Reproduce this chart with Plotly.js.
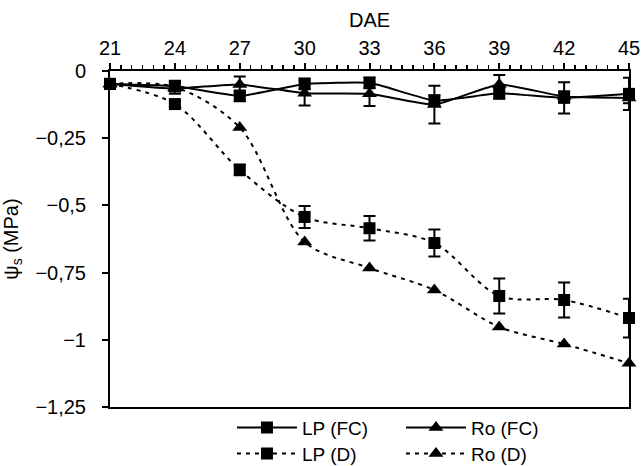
<!DOCTYPE html>
<html>
<head>
<meta charset="utf-8">
<script src="https://cdn.plot.ly/plotly-3.0.1.min.js"></script>
<style>html,body{margin:0;padding:0;background:#fff;}#chart{width:641px;height:466px;}</style>
</head>
<body>
<div id="chart"></div>
<script>
// Days after emergence
const dae = [21, 24, 27, 30, 33, 36, 39, 42, 45];

// Osmotic potential (MPa) and error bars
const lpFC = [-0.048, -0.056, -0.093, -0.048, -0.044, -0.110, -0.083, -0.100, -0.085];
const lpFCerr = [0.01, 0.02, 0.02, 0.02, 0.02, 0.02, 0.02, 0.058, 0.06];
const roFC = [-0.048, -0.065, -0.050, -0.083, -0.085, -0.125, -0.050, -0.095, -0.100];
const roFCerr = [0.01, 0.02, 0.03, 0.045, 0.045, 0.07, 0.035, 0.02, 0.02];
const lpD = [-0.048, -0.123, -0.368, -0.543, -0.585, -0.640, -0.837, -0.852, -0.919];
const lpDerr = [0.01, 0.01, 0.02, 0.041, 0.046, 0.05, 0.065, 0.065, 0.072];
const roD = [-0.048, -0.060, -0.210, -0.636, -0.733, -0.815, -0.952, -1.016, -1.087];

const seriesNames = ["LP (FC)", "Ro (FC)", "LP (D)", "Ro (D)"];

const font = "Liberation Sans, Arial, sans-serif";

function tr(name, y, err, symbol, dash, leg, smooth) {
  const t = {
    x: dae, y: y, name: name, type: 'scatter', mode: 'lines+markers', legend: leg,
    line: {color: '#000', width: 2, shape: 'spline', smoothing: smooth, dash: dash},
    marker: {color: '#000', symbol: symbol, size: symbol === 'square' ? 12 : 13},
    cliponaxis: false
  };
  if (err) t.error_y = {type: 'data', array: err, visible: true, color: '#000', thickness: 2, width: 6};
  return t;
}

const data = [
  tr(seriesNames[0], lpFC, lpFCerr, 'square', 'solid', 'legend', 0.4),
  tr(seriesNames[1], roFC, roFCerr, 'triangle-up', 'solid', 'legend', 0.4),
  tr(seriesNames[2], lpD, lpDerr, 'square', '4px,5px', 'legend2', 0.9),
  tr(seriesNames[3], roD, null, 'triangle-up', '4px,5px', 'legend2', 0.9)
];

function legendBox(y) {
  return {
    orientation: 'h', x: 0.235, xanchor: 'left', y: y, yanchor: 'top',
    entrywidth: 94, entrywidthmode: 'pixels', itemwidth: 60,
    font: {family: font, size: 19, color: '#000'},
    bgcolor: 'rgba(0,0,0,0)'
  };
}

const layout = {
  width: 641, height: 466,
  margin: {l: 110, r: 12, t: 71, b: 59, autoexpand: false},
  paper_bgcolor: '#fff', plot_bgcolor: '#fff',
  separators: ', ',
  font: {family: font, size: 19, color: '#000'},
  showlegend: true,
  legend: legendBox(-0.005),
  legend2: legendBox(-0.082),
  xaxis: {
    side: 'top', range: [21, 45], tick0: 21, dtick: 3,
    showline: true, linecolor: '#000', linewidth: 2, mirror: true,
    ticks: 'outside', ticklen: 6, tickwidth: 2, tickcolor: '#000',
    minor: {dtick: 0.5, tick0: 21, ticks: 'outside', ticklen: 4, tickwidth: 1.5, tickcolor: '#000'},
    showgrid: false, zeroline: false,
    tickfont: {family: font, size: 20},
    title: {text: 'DAE', font: {family: font, size: 20}, standoff: 4}
  },
  yaxis: {
    range: [-1.25, 0], dtick: 0.25, tick0: 0,
    showline: true, linecolor: '#000', linewidth: 2, mirror: true,
    ticks: 'outside', ticklen: 6, tickwidth: 2, tickcolor: '#000', ticklabelstandoff: 12,
    showgrid: false, zeroline: false,
    tickfont: {family: font, size: 20},
    title: {text: 'ψ<sub>s</sub> (MPa)', font: {family: font, size: 20}, standoff: 24}
  }
};

Plotly.newPlot('chart', data, layout, {displayModeBar: false, staticPlot: true});
</script>
</body>
</html>
